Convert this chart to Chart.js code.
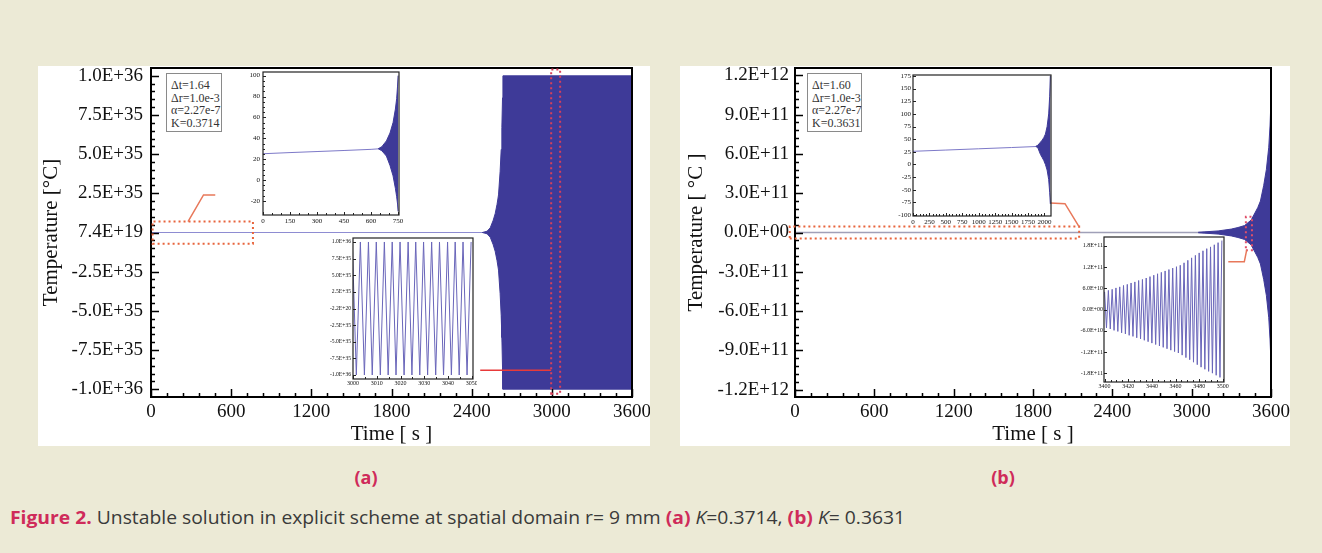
<!DOCTYPE html>
<html><head><meta charset="utf-8">
<script src="https://cdn.jsdelivr.net/npm/chart.js@4.4.1/dist/chart.umd.min.js"></script>
<style>
html,body{margin:0;padding:0;}
body{width:1322px;height:553px;background:#ecead6;position:relative;overflow:hidden;font-family:"Liberation Serif",serif;}
.panel{position:absolute;background:#fff;}
canvas{position:absolute;}
.legend{position:absolute;border:1px solid #8a8a8a;background:#fff;font:12px/12.5px "Liberation Serif",serif;color:#333;padding:5px 0 0 4px;box-sizing:border-box;white-space:nowrap;}
.sub{position:absolute;font:700 18px "Open Sans",sans-serif;color:#cf2b5a;transform:translate(-50%,-50%);}
#caption{position:absolute;left:10px;top:505px;white-space:nowrap;font:18px "Open Sans",sans-serif;color:#3a3a3a;transform-origin:0 0;}
#caption b{color:#cf2b5a;}
</style></head><body>
<div class="panel" style="left:38px;top:66px;width:612px;height:380px"></div>
<div class="panel" style="left:680px;top:66px;width:610px;height:380px"></div>
<canvas id="ca"></canvas>
<canvas id="cb"></canvas>
<canvas id="ca1"></canvas>
<canvas id="ca2"></canvas>
<canvas id="cb1"></canvas>
<canvas id="cb2"></canvas>
<div class="legend" style="left:166px;top:73px;width:56px;height:59px">Δt=1.64<br>Δr=1.0e-3<br>α=2.27e-7<br>K=0.3714</div>
<div class="legend" style="left:807px;top:73px;width:55px;height:59px">Δt=1.60<br>Δr=1.0e-3<br>α=2.27e-7<br>K=0.3631</div>
<div class="sub" style="left:366px;top:477px">(a)</div>
<div class="sub" style="left:1003px;top:477px">(b)</div>
<div id="caption"><b>Figure 2.</b> Unstable solution in explicit scheme at spatial domain r= 9 mm <b>(a)</b> <i>K</i>=0.3714, <b>(b)</b> <i>K</i>= 0.3631</div>
<script>
// ---------- (a) main ----------
const aTimeTicks = [0,600,1200,1800,2400,3000,3600];
const aTimeTickLabels = ['0','600','1200','1800','2400','3000','3600'];
const aTempTicks = [-1e36,-7.5e35,-5e35,-2.5e35,0,2.5e35,5e35,7.5e35,1e36];
const aTempTickLabels = ['-1.0E+36','-7.5E+35','-5.0E+35','-2.5E+35','7.4E+19','2.5E+35','5.0E+35','7.5E+35','1.0E+36'];
const aBaseTime = [0,2490];
const aBaseTemp = [0,0];
const aEnvTime  = [2480,2515,2539,2560,2576,2590,2601,2613,2621,2626,2631,2634,3600];
const aEnvUpper = [0,8e33,3e34,7.5e34,1.2e35,1.8e35,2.4e35,3.9e35,5.3e35,6.7e35,8.6e35,1e36,1e36];
const aEnvLower = [0,-8e33,-3e34,-7.5e34,-1.2e35,-1.8e35,-2.4e35,-3.9e35,-5.3e35,-6.7e35,-8.6e35,-1e36,-1e36];

// ---------- (a) inset 1 : 0-750 s ----------
const a1TimeTicks = [0,150,300,450,600,750];
const a1TimeTickLabels = ['0','150','300','450','600','750'];
const a1TempTicks = [-20,0,20,40,60,80,100];
const a1TempTickLabels = ['-20','0','20','40','60','80','100'];
const a1BaseTime = [0,150,300,450,600,650];
const a1BaseTemp = [25.2,26.3,27.3,28.3,29.4,30];
const a1EnvTime  = [640,660,685,705,722,735,742,747,750];
const a1EnvUpper = [30,32,37.5,45,55,68,78,90,100];
const a1EnvLower = [30,28,23,14,4,-8,-16,-23,-30];

// ---------- (a) inset 2 : 3000-3050 s ----------
const a2TimeTicks = [3000,3010,3020,3030,3040,3050];
const a2TimeTickLabels = ['3000','3010','3020','3030','3040','3050'];
const a2TempTicks = [-1e36,-7.5e35,-5e35,-2.5e35,0,2.5e35,5e35,7.5e35,1e36];
const a2TempTickLabels = ['-1.0E+36','-7.5E+35','-5.0E+35','-2.5E+35','-2.2E+20','2.5E+35','5.0E+35','7.5E+35','1.0E+36'];
const a2Time = [2999.7,3001.4,3003.1,3004.8,3006.5,3008.1,3009.8,3011.5,3013.2,3014.8,3016.5,3018.1,3019.8,3021.5,3023.2,3024.8,3026.4,3028.1,3029.7,3031.4,3033.1,3034.8,3036.4,3038.1,3039.8,3041.4,3043.0,3044.7,3046.3,3048.0,3049.7];
const a2Temp = [1e36,-1e36,1e36,-1e36,1e36,-1e36,1e36,-1e36,1e36,-1e36,1e36,-1e36,1e36,-1e36,1e36,-1e36,1e36,-1e36,1e36,-1e36,1e36,-1e36,1e36,-1e36,1e36,-1e36,1e36,-1e36,1e36,-1e36,1e36];

// ---------- (b) main ----------
const bTimeTicks = [0,600,1200,1800,2400,3000,3600];
const bTimeTickLabels = ['0','600','1200','1800','2400','3000','3600'];
const bTempTicks = [-1.2e12,-9e11,-6e11,-3e11,0,3e11,6e11,9e11,1.2e12];
const bTempTickLabels = ['-1.2E+12','-9.0E+11','-6.0E+11','-3.0E+11','0.0E+00','3.0E+11','6.0E+11','9.0E+11','1.2E+12'];
const bBaseTime = [0,3600];
const bBaseTemp = [0,0];
const bEnvTime  = [3050,3100,3200,3300,3350,3400,3450,3500,3520,3545,3565,3583,3593,3600];
const bEnvUpper = [2e9,5e9,1.2e10,2.6e10,3.8e10,5.3e10,9.5e10,1.9e11,2.4e11,3.6e11,4.8e11,6.5e11,8.2e11,1.02e12];
const bEnvLower = [-2e9,-5e9,-1.2e10,-2.6e10,-3.8e10,-5.3e10,-9.5e10,-1.9e11,-2.4e11,-3.6e11,-4.8e11,-6.5e11,-8.2e11,-1.0e12];

// ---------- (b) inset 1 : 0-2000 s ----------
const b1TimeTicks = [0,250,500,750,1000,1250,1500,1750,2000];
const b1TimeTickLabels = ['0','250','500','750','1000','1250','1500','1750','2000'];
const b1TempTicks = [-100,-75,-50,-25,0,25,50,75,100,125,150,175];
const b1TempTickLabels = ['-100','-75','-50','-25','0','25','50','75','100','125','150','175'];
const b1BaseTime = [0,500,1000,1500,1880];
const b1BaseTemp = [26,28.5,31,33.5,35.5];
const b1EnvTime  = [1870,1900,1939,1965,1990,2015,2041,2065,2080,2090];
const b1EnvUpper = [36,38,44,48,53,60,75,100,135,175];
const b1EnvLower = [35.5,33,20,14,8,0,-11,-30,-55,-78];

// ---------- (b) inset 2 : 3400-3500 s ----------
const b2TimeTicks = [3400,3420,3440,3460,3480,3500];
const b2TimeTickLabels = ['3400','3420','3440','3460','3480','3500'];
const b2TempTicks = [-1.8e11,-1.2e11,-6e10,0,6e10,1.2e11,1.8e11];
const b2TempTickLabels = ['-1.8E+11','-1.2E+11','-6.0E+10','0.0E+00','6.0E+10','1.2E+11','1.8E+11'];
const b2Time = [3400.0,3401.6,3403.2,3404.8,3406.4,3408.0,3409.6,3411.2,3412.8,3414.4,3416.0,3417.6,3419.2,3420.8,3422.4,3424.0,3425.6,3427.2,3428.8,3430.4,3432.0,3433.6,3435.2,3436.8,3438.4,3440.0,3441.6,3443.2,3444.8,3446.4,3448.0,3449.6,3451.2,3452.8,3454.4,3456.0,3457.6,3459.2,3460.8,3462.4,3464.0,3465.6,3467.2,3468.8,3470.4,3472.0,3473.6,3475.2,3476.8,3478.4,3480.0,3481.6,3483.2,3484.8,3486.4,3488.0,3489.6,3491.2,3492.8,3494.4,3496.0,3497.6,3499.2];
const b2Temp = [5.0e10,-5.2e10,5.4e10,-5.5e10,5.7e10,-5.9e10,6.1e10,-6.2e10,6.4e10,-6.6e10,6.8e10,-6.9e10,7.1e10,-7.3e10,7.5e10,-7.6e10,7.8e10,-8.0e10,8.2e10,-8.3e10,8.5e10,
 -8.7e10,8.9e10,-9.1e10,9.3e10,-9.5e10,9.7e10,-9.9e10,10.1e10,-10.3e10,10.5e10,-10.7e10,10.9e10,-11.1e10,11.3e10,-11.5e10,11.7e10,-11.9e10,12.1e10,-12.3e10,
 12.5e10,-12.9e10,13.2e10,-13.6e10,13.9e10,-14.2e10,14.6e10,-14.9e10,15.3e10,-15.6e10,16.0e10,
 -16.3e10,16.6e10,-16.9e10,17.2e10,-17.5e10,17.7e10,-18.0e10,18.3e10,-18.6e10,18.9e10,-19.2e10,19.5e10];

// ================= drawing =================
const SERIF = '"Liberation Serif","Times New Roman",serif';
const FILL = '#3e3a98';
const LAV = '#6a66ba';
function pts(xs, ys){ return xs.map((x,i)=>({x:x, y:ys[i]})); }

const framePlugin = {
  id:'frame',
  beforeDatasetsDraw(chart, args, o){
    const a = chart.chartArea, ctx = chart.ctx;
    ctx.save(); ctx.fillStyle = '#fff'; ctx.fillRect(a.left, a.top, a.width, a.height); ctx.restore();
  },
  afterDatasetsDraw(chart, args, o){
    const {ctx, chartArea:a} = chart; const xs = chart.scales.x, ys = chart.scales.y;
    ctx.save();
    ctx.strokeStyle = o.color; ctx.lineWidth = o.tickWidth;
    ctx.beginPath();
    const xt = xs.ticks.map(t=>t.value), yt = ys.ticks.map(t=>t.value);
    xt.forEach((v,i)=>{
      const p = Math.round(xs.getPixelForValue(v))+0.5;
      ctx.moveTo(p, a.bottom); ctx.lineTo(p, a.bottom-o.major);
      if(i<xt.length-1) for(let k=1;k<o.minorX;k++){
        const q = Math.round(xs.getPixelForValue(v+(xt[i+1]-v)*k/o.minorX))+0.5;
        ctx.moveTo(q, a.bottom); ctx.lineTo(q, a.bottom-o.minor);
      }
    });
    yt.forEach((v,i)=>{
      const p = Math.round(ys.getPixelForValue(v))+0.5;
      ctx.moveTo(a.left, p); ctx.lineTo(a.left+o.major, p);
      if(i<yt.length-1) for(let k=1;k<o.minorY;k++){
        const q = Math.round(ys.getPixelForValue(v+(yt[i+1]-v)*k/o.minorY))+0.5;
        ctx.moveTo(a.left, q); ctx.lineTo(a.left+o.minor, q);
      }
    });
    ctx.stroke();
    ctx.lineWidth = o.frameWidth;
    ctx.strokeRect(a.left, a.top, a.width, a.height);
    ctx.restore();
  }
};
const annotPlugin = {
  id:'annot',
  afterDraw(chart, args, o){
    if(!o.items || !o.items.length) return;
    const ctx = chart.ctx, xs = chart.scales.x, ys = chart.scales.y;
    ctx.save();
    o.items.forEach(it=>{
      ctx.strokeStyle = it.color; ctx.lineWidth = it.width; ctx.setLineDash(it.dash||[]);
      ctx.beginPath();
      it.pts.forEach((p,i)=>{ const X = xs.getPixelForValue(p[0]), Y = ys.getPixelForValue(p[1]); i?ctx.lineTo(X,Y):ctx.moveTo(X,Y); });
      if(it.closed) ctx.closePath();
      ctx.stroke();
    });
    ctx.restore();
  }
};
function rect(x0,x1,y0,y1,color){ return {pts:[[x0,y0],[x1,y0],[x1,y1],[x0,y1]], closed:true, color:color, width:2, dash:[2,3]}; }

function build(id, box, cfg){
  const c = document.getElementById(id);
  c.width = box.w; c.height = box.h; c.style.left = box.l+'px'; c.style.top = box.t+'px';
  const axis = (ax, isX) => ({
    type:'linear', min:ax.min, max:ax.max,
    afterBuildTicks: s=>{ s.ticks = ax.ticks.map(v=>({value:v})); },
    afterFit: s=>{ if(isX){ s.height = ax.size; s.paddingLeft = 0; s.paddingRight = 0; } else { s.width = ax.size; s.paddingTop = 0; s.paddingBottom = 0; } },
    ticks:{autoSkip:false, maxRotation:0, minRotation:0, padding:ax.tpad, color:'#111', font:{family:SERIF, size:ax.fs}, callback:(v,i)=>ax.labels[i]},
    grid:{display:false, drawTicks:false}, border:{display:false},
    title: ax.title ? {display:true, text:ax.title, color:'#111', font:{family:SERIF, size:21}, padding:ax.titlePad} : {display:false}
  });
  return new Chart(c, {
    type:'line',
    data:{datasets:cfg.datasets},
    options:{
      responsive:false, animation:false, devicePixelRatio:1,
      layout:{padding:cfg.pad},
      plugins:{legend:{display:false}, tooltip:{enabled:false}, frame:cfg.frame, annot:{items:cfg.annot||[]}},
      elements:{point:{radius:0}, line:{tension:0}},
      scales:{ x:axis(cfg.x, true), y:axis(cfg.y, false) }
    },
    plugins:[framePlugin, annotPlugin]
  });
}
function envSets(t, up, lo, base, baseT, baseColor, baseW){
  return [
    {data:pts(t, up), borderColor:FILL, backgroundColor:FILL, borderWidth:1, fill:'+1'},
    {data:pts(t, lo), borderColor:FILL, borderWidth:1, fill:false},
    {data:pts(baseT, base), borderColor:baseColor, borderWidth:baseW, fill:false}
  ];
}
const mainFrame = {color:'#000', tickWidth:1.5, major:8, minor:4, minorX:5, minorY:5, frameWidth:2};
const insetFrame = {color:'#222', tickWidth:1, major:3, minor:2, minorX:3, minorY:4, frameWidth:1.2};

// (a) main
build('ca', {l:38, t:66, w:612, h:380}, {
  pad:{left:0, top:2, right:18, bottom:0},
  x:{min:0, max:3600, ticks:aTimeTicks, labels:aTimeTickLabels, size:49, tpad:4, fs:19, title:'Time [ s ]', titlePad:{top:0,bottom:-1}},
  y:{min:-1.05e36, max:1.05e36, ticks:aTempTicks, labels:aTempTickLabels, size:113, tpad:8, fs:19, title:'Temperature [°C]', titlePad:{top:1,bottom:0}},
  datasets: envSets(aEnvTime, aEnvUpper, aEnvLower, aBaseTemp, aBaseTime, '#8e8cd2', 1),
  frame: mainFrame,
  annot:[
    rect(12, 763, -7.2e34, 7.0e34, '#e8643c'),
    {pts:[[277,7.0e34],[393,2.4e35],[481,2.4e35]], color:'#e8785a', width:1.5},
    rect(2995, 3062, -1.03e36, 1.04e36, '#d8405a'),
    {pts:[[2464,-8.8e35],[2995,-8.8e35]], color:'#e83a3a', width:1.5}
  ]
});
// (b) main
build('cb', {l:680, t:66, w:610, h:380}, {
  pad:{left:0, top:2, right:19, bottom:0},
  x:{min:0, max:3600, ticks:bTimeTicks, labels:bTimeTickLabels, size:49, tpad:4, fs:19, title:'Time [ s ]', titlePad:{top:0,bottom:-1}},
  y:{min:-1.255e12, max:1.255e12, ticks:bTempTicks, labels:bTempTickLabels, size:115, tpad:6, fs:19, title:'Temperature [ °C ]', titlePad:{top:4,bottom:0}},
  datasets: envSets(bEnvTime, bEnvUpper, bEnvLower, bBaseTemp, bBaseTime, '#a0a0b8', 1.5),
  frame: mainFrame,
  annot:[
    rect(-40, 2149, -4.5e10, 4.5e10, '#e8643c'),
    {pts:[[1929,2.25e11],[2042,2.2e11],[2148,4.5e10]], color:'#e8785a', width:1.5},
    rect(3410, 3456, -1.35e11, 1.2e11, '#e0506a'),
    {pts:[[3416,-1.35e11],[3398,-2.24e11],[3277,-2.24e11]], color:'#e8785a', width:1.5}
  ]
});
// (a) inset 1
build('ca1', {l:232, t:68, w:172, h:160}, {
  pad:{left:0, top:4, right:5, bottom:0},
  x:{min:0, max:755, ticks:a1TimeTicks, labels:a1TimeTickLabels, size:13, tpad:2, fs:7},
  y:{min:-33.5, max:103.5, ticks:a1TempTicks, labels:a1TempTickLabels, size:31, tpad:3, fs:7},
  datasets: envSets(a1EnvTime, a1EnvUpper, a1EnvLower, a1BaseTemp, a1BaseTime, '#7d79c8', 1),
  frame: insetFrame
});
// (a) inset 2
build('ca2', {l:305, t:234, w:172, h:156}, {
  pad:{left:0, top:4, right:4, bottom:0},
  x:{min:3000, max:3050.5, ticks:a2TimeTicks, labels:a2TimeTickLabels, size:11, tpad:1, fs:6},
  y:{min:-1.06e36, max:1.06e36, ticks:a2TempTicks, labels:a2TempTickLabels, size:48, tpad:2, fs:5.6},
  datasets:[{data:pts(a2Time, a2Temp), borderColor:LAV, borderWidth:1, fill:false}],
  frame: Object.assign({}, insetFrame, {minorX:2, minorY:1})
});
// (b) inset 1
build('cb1', {l:880, t:70, w:176, h:160}, {
  pad:{left:0, top:5, right:5, bottom:0},
  x:{min:0, max:2100, ticks:b1TimeTicks, labels:b1TimeTickLabels, size:14, tpad:2, fs:7},
  y:{min:-102, max:177, ticks:b1TempTicks, labels:b1TempTickLabels, size:33, tpad:2, fs:7},
  datasets: envSets(b1EnvTime, b1EnvUpper, b1EnvLower, b1BaseTemp, b1BaseTime, '#7d79c8', 1),
  frame: Object.assign({}, insetFrame, {minorX:5, minorY:1})
});
// (b) inset 2
build('cb2', {l:1070, t:233, w:160, h:160}, {
  pad:{left:0, top:4, right:6, bottom:0},
  x:{min:3399.5, max:3501, ticks:b2TimeTicks, labels:b2TimeTickLabels, size:11, tpad:1, fs:6},
  y:{min:-2.05e11, max:2.05e11, ticks:b2TempTicks, labels:b2TempTickLabels, size:34, tpad:1, fs:6},
  datasets:[{data:pts(b2Time, b2Temp), borderColor:LAV, borderWidth:1, fill:false}],
  frame: Object.assign({}, insetFrame, {minorX:4, minorY:1})
});

function fitCaption(){
  const cap = document.getElementById('caption');
  cap.style.transform = 'none';
  const w = cap.getBoundingClientRect().width;
  cap.style.transform = 'scaleX(' + (895 / w) + ')';
}
fitCaption();
if (document.fonts && document.fonts.ready) document.fonts.ready.then(fitCaption);
</script>
</body></html>
